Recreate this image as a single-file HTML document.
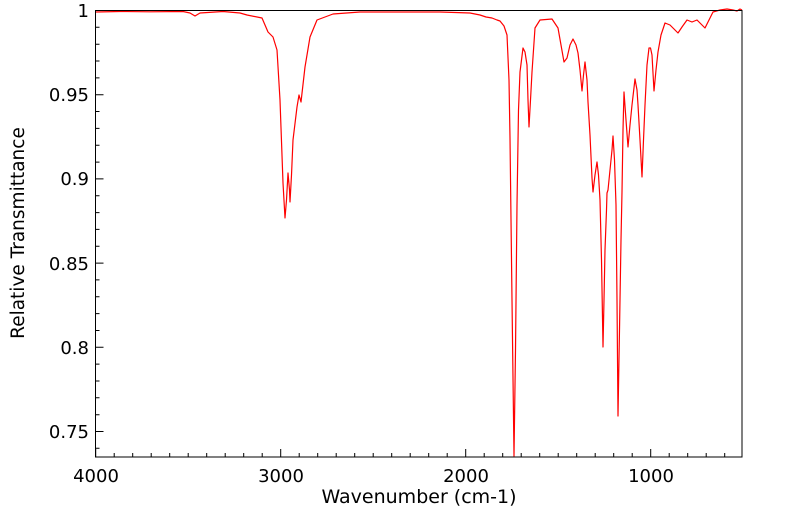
<!DOCTYPE html>
<html><head><meta charset="utf-8"><style>html,body{margin:0;padding:0;background:#fff;}</style></head>
<body>
<svg width="799" height="516" viewBox="0 0 799 516" xmlns="http://www.w3.org/2000/svg" font-family="DejaVu Sans, Liberation Sans, sans-serif">
<rect width="799" height="516" fill="#fff"/>
<path fill="none" stroke="#000" stroke-width="1" d="
M95.5 10.5h8 M95.5 27.3h4 M95.5 44.2h4 M95.5 61h4 M95.5 77.9h4 M95.5 94.7h8 M95.5 111.5h4 M95.5 128.4h4 M95.5 145.2h4 M95.5 162.1h4 M95.5 178.9h8 M95.5 195.7h4 M95.5 212.6h4 M95.5 229.4h4 M95.5 246.3h4 M95.5 263.1h8 M95.5 279.9h4 M95.5 296.8h4 M95.5 313.6h4 M95.5 330.5h4 M95.5 347.3h8 M95.5 364.1h4 M95.5 381h4 M95.5 397.8h4 M95.5 414.7h4 M95.5 431.5h8 M95.5 448.3h4
M95.7 457v-8 M114.2 457v-4 M132.7 457v-4 M151.2 457v-4 M169.7 457v-4 M188.2 457v-4 M206.7 457v-4 M225.2 457v-4 M243.7 457v-4 M262.2 457v-4 M280.7 457v-8 M299.2 457v-4 M317.7 457v-4 M336.2 457v-4 M354.7 457v-4 M373.2 457v-4 M391.7 457v-4 M410.2 457v-4 M428.7 457v-4 M447.2 457v-4 M465.7 457v-8 M484.2 457v-4 M502.7 457v-4 M521.2 457v-4 M539.7 457v-4 M558.2 457v-4 M576.7 457v-4 M595.2 457v-4 M613.7 457v-4 M632.2 457v-4 M650.7 457v-8 M669.2 457v-4 M687.7 457v-4 M706.2 457v-4 M724.7 457v-4"/>
<polyline fill="none" stroke="#ff0000" stroke-width="1.2" stroke-linejoin="round" points="
96,12 120,11.5 150,11.8 183,11.5 190,13 195,16 200,13 223,11.5 240,13 247,15 262,18 268,32 273,37 277,50 280,100 283,183 285,218 286.5,200 288,173 289.5,190 290,202 291.5,175 293,140 297,107 299,95 301,102 305,67 310,37 317,20 333,14 360,12 400,12 440,12 470,13 480,15 486,17 492,18 497,20 500,21 504,26 507,35 509,80 510,138 512,300 514,456 515.5,350 517,205 518.5,110 520,72 523,48 525,52 527,65 528,100 529,127 530.5,100 532,72 535,28 540,20 552,19 558,28 561,45 564,62 567,58 570,45 573,39 576,45 578,53 580,70 582,91 583.5,75 585,62 587,80 588,102 590,135 592,178 593,192 595,175 597,162 598.5,175 600,200 601.5,260 603,347 604,300 605,250 606.5,210 607,193 608,190 610,170 612,150 613,136 614.5,160 616,205 617,300 618,416 619.5,330 621,240 622,192 623,130 624,92 626,120 628,147 630,125 632,105 635,79 637,90 638,105 640,140 642,177 643.5,140 645,105 647,65 649,48 650.5,48 652,55 654,91 656,70 658,52 661,35 665,23 670,25 674,29 678,33 682,27 687,20 692,22 697,20 701,24 705,28 709,20 713,12 720,10 727,9 733,10 737,11 740,9 742,10"/>
<rect x="95.5" y="10.5" width="646.5" height="446.5" fill="none" stroke="#000" stroke-width="1"/>
<g font-size="18" fill="#000" text-anchor="end">
<text x="89" y="17">1</text>
<text x="89" y="101">0.95</text>
<text x="89" y="185">0.9</text>
<text x="89" y="270">0.85</text>
<text x="89" y="354">0.8</text>
<text x="89" y="438">0.75</text>
</g>
<g font-size="18" fill="#000" text-anchor="middle">
<text x="96" y="482">4000</text>
<text x="281" y="482">3000</text>
<text x="466" y="482">2000</text>
<text x="651" y="482">1000</text>
<text x="419" y="503" font-size="19">Wavenumber (cm-1)</text>
<text font-size="18.5" transform="translate(24,233) rotate(-90)">Relative Transmittance</text>
</g>
</svg>
</body></html>
